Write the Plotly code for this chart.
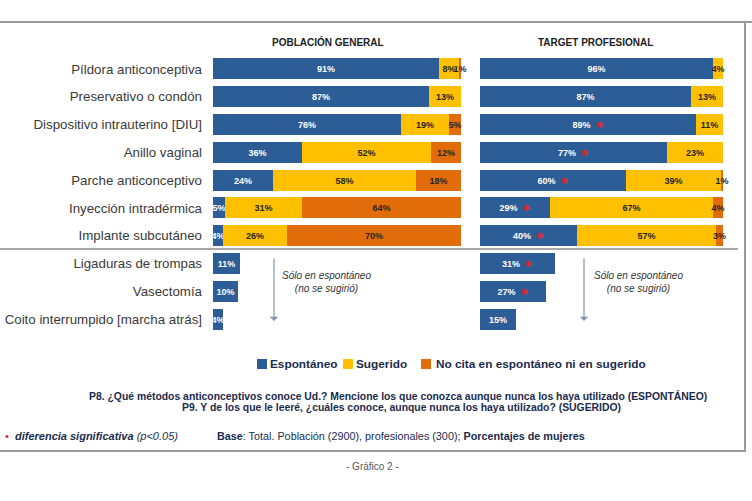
import plotly.graph_objects as go

W, H = 752, 501

categories = [
    "Píldora anticonceptiva",
    "Preservativo o condón",
    "Dispositivo intrauterino [DIU]",
    "Anillo vaginal",
    "Parche anticonceptivo",
    "Inyección intradérmica",
    "Implante subcutáneo",
    "Ligaduras de trompas",
    "Vasectomía",
    "Coito interrumpido [marcha atrás]",
]

# Población general
gen_espontaneo = [91, 87, 76, 36, 24, 5, 4, 11, 10, 4]
gen_sugerido = [8, 13, 19, 52, 58, 31, 26, 0, 0, 0]
gen_no_cita = [1, 0, 5, 12, 18, 64, 70, 0, 0, 0]

# Target profesional
pro_espontaneo = [96, 87, 89, 77, 60, 29, 40, 31, 27, 15]
pro_sugerido = [4, 13, 11, 23, 39, 67, 57, 0, 0, 0]
pro_no_cita = [0, 0, 0, 0, 1, 4, 3, 0, 0, 0]
pro_significativo = [False, False, True, True, True, True, True, True, True, False]

series_names = ["Espontáneo", "Sugerido", "No cita en espontáneo ni en sugerido"]
colors = ["#2D5D96", "#FFC000", "#E36C0A"]
text_colors = ["#FFFFFF", "#262626", "#262626"]

FONT = "Liberation Sans, Arial, sans-serif"
NAVY = "#1C2B4E"


def px(x):
    return x / W


def py(y):
    return 1 - y / H


def labels(vals, stars=None):
    out = []
    for i, v in enumerate(vals):
        if v <= 0:
            out.append("")
        elif stars is not None and stars[i]:
            out.append(f"<b>{v}%</b>  <span style='color:#E0262B'>✱</span>")
        else:
            out.append(f"<b>{v}%</b>")
    return out


ypos = list(range(len(categories)))

fig = go.Figure()

panels = [
    ("x", [gen_espontaneo, gen_sugerido, gen_no_cita], None),
    ("x2", [pro_espontaneo, pro_sugerido, pro_no_cita], pro_significativo),
]
for xa, series, stars in panels:
    for k, vals in enumerate(series):
        fig.add_trace(go.Bar(
            y=ypos, x=vals, orientation="h", xaxis=xa, yaxis="y",
            name=series_names[k], showlegend=False,
            marker=dict(color=colors[k], line=dict(width=0)),
            width=0.76,
            text=labels(vals, stars if k == 0 else None),
            textposition="inside", insidetextanchor="middle",
            constraintext="none", textangle=0, cliponaxis=False,
            textfont=dict(family=FONT, size=9, color=text_colors[k]),
            hoverinfo="skip",
        ))

row_top, row_gap = 69, 27.8
y_lo = row_top - row_gap / 2
y_hi = row_top + row_gap * (len(categories) - 1) + row_gap / 2

fig.update_layout(
    width=W, height=H, autosize=False,
    margin=dict(l=0, r=0, t=0, b=0),
    paper_bgcolor="white", plot_bgcolor="white",
    barmode="stack", bargap=0,
    showlegend=False,
    font=dict(family=FONT, color="#333333"),
    xaxis=dict(domain=[px(213), px(461)], range=[0, 100], visible=False, fixedrange=True),
    xaxis2=dict(domain=[px(480), px(723)], range=[0, 100], visible=False, anchor="y", fixedrange=True),
    yaxis=dict(
        domain=[py(y_hi), py(y_lo)], range=[len(categories) - 0.5, -0.5],
        tickvals=ypos, ticktext=categories, showgrid=False, zeroline=False,
        showline=False, ticks="", ticklabelstandoff=10,
        tickfont=dict(family=FONT, size=13.3, color="#3A3A3A"),
        anchor="x", fixedrange=True,
    ),
)

shapes = []
line_col = "#9A9A9A"
shapes.append(dict(type="line", xref="paper", yref="paper", x0=0, x1=1, y0=py(22), y1=py(22),
                   line=dict(color=line_col, width=2)))
shapes.append(dict(type="line", xref="paper", yref="paper", x0=0, x1=px(738), y0=py(249), y1=py(249),
                   line=dict(color="#A8A8A8", width=2)))
shapes.append(dict(type="line", xref="paper", yref="paper", x0=px(745), x1=px(745), y0=py(22), y1=py(451),
                   line=dict(color=line_col, width=2)))
shapes.append(dict(type="line", xref="paper", yref="paper", x0=0, x1=px(746), y0=py(451), y1=py(451),
                   line=dict(color=line_col, width=2)))

annotations = []


def note(text, x, y, size, color=NAVY, xanchor="center", align="center"):
    annotations.append(dict(text=text, x=px(x), y=py(y), xref="paper", yref="paper",
                            xanchor=xanchor, yanchor="middle", align=align, showarrow=False,
                            font=dict(family=FONT, size=size, color=color)))


# panel titles
note("<b>POBLACIÓN GENERAL</b>", 328, 42, 10, "#222222")
note("<b>TARGET PROFESIONAL</b>", 595, 42, 10, "#222222")

# arrows with notes
for ax_x, tx in [(274, 326), (584, 638)]:
    annotations.append(dict(x=px(ax_x), y=py(321), xref="paper", yref="paper", text="",
                            showarrow=True, ax=0, ay=-64, arrowhead=1, arrowsize=1.2,
                            arrowwidth=1.2, arrowcolor="#8496B0"))
    note("<i>Sólo en espontáneo<br>(no se sugirió)</i>", tx, 282, 10, "#333333")

# manual legend
leg_y = 364
leg_items = [(257, 268, series_names[0]), (343, 354, series_names[1]), (421, 434, series_names[2])]
for (sx, tx, name), col in zip(leg_items, colors):
    shapes.append(dict(type="rect", xref="paper", yref="paper", x0=px(sx), x1=px(sx + 10),
                       y0=py(leg_y + 5), y1=py(leg_y - 5), fillcolor=col, line=dict(width=0)))
    note(f"<b>{name}</b>", tx, leg_y, 11.8, NAVY, xanchor="left")

# footer questions
note("<b>P8. ¿Qué métodos anticonceptivos conoce Ud.? Mencione los que conozca aunque nunca los haya utilizado (ESPONTÁNEO)</b>",
     398, 396, 10.4)
note("<b>P9. Y de los que le leeré, ¿cuáles conoce, aunque nunca los haya utilizado? (SUGERIDO)</b>",
     401, 408, 10.4)

note("<span style='color:#E0262B'>•</span>  <b><i>diferencia significativa</i></b> <i>(p&lt;0.05)</i>",
     3, 436, 11, xanchor="left")
note("<b>Base</b>: Total. Población (2900), profesionales (300); <b>Porcentajes de mujeres</b>",
     215, 436, 10.8, xanchor="left")

note("- Gráfico 2 -", 372, 466, 10, "#555555")

fig.update_layout(shapes=shapes, annotations=annotations)

fig.write_html("out.html", config={"displayModeBar": False},
               post_script="document.body.style.margin='0';document.body.style.padding='0';")
